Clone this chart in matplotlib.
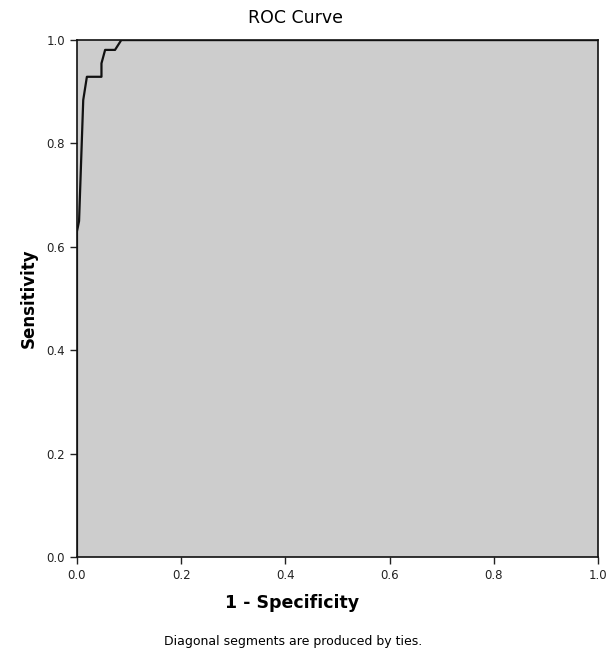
import matplotlib
matplotlib.use("Agg")
import matplotlib.pyplot as plt

fpr = [0.0, 0.0, 0.004, 0.012, 0.019, 0.047, 0.047, 0.054, 0.073, 0.085, 1.0]
tpr = [0.0, 0.63, 0.65, 0.884, 0.929, 0.929, 0.955, 0.981, 0.981, 1.0, 1.0]
ticks = [0.0, 0.2, 0.4, 0.6, 0.8, 1.0]
tick_labels = ["0.0", "0.2", "0.4", "0.6", "0.8", "1.0"]

plt.rcParams['font.family'] = ['DejaVu Sans']
fig = plt.figure(figsize=(6.09, 6.57), dpi=100)
ax = fig.add_axes([0.1264, 0.152, 0.8556, 0.787])
ax.set_facecolor('#cdcdcd')
ax.plot(fpr, tpr, color='#111111', lw=1.6)
ax.set_xlim(0, 1)
ax.set_ylim(0, 1)
ax.set_xticks(ticks)
ax.set_xticklabels(tick_labels)
ax.set_yticks(ticks)
ax.set_yticklabels(tick_labels)
ax.tick_params(direction='out', length=5, width=1, labelsize=8.5, colors='#222222')
for s in ax.spines.values():
    s.set_linewidth(1.2)
    s.set_color('#111111')
ax.set_ylabel('Sensitivity', fontsize=12, fontweight='bold', labelpad=6)
fig.text(0.485, 0.972, 'ROC Curve', ha='center', va='center', fontsize=12.5)
fig.text(0.48, 0.082, '1 - Specificity', ha='center', va='center', fontsize=12.5, fontweight='bold')
fig.text(0.482, 0.018, 'Diagonal segments are produced by ties.', ha='center', fontsize=9)
fig.savefig('out.png', dpi=100, facecolor='white')
